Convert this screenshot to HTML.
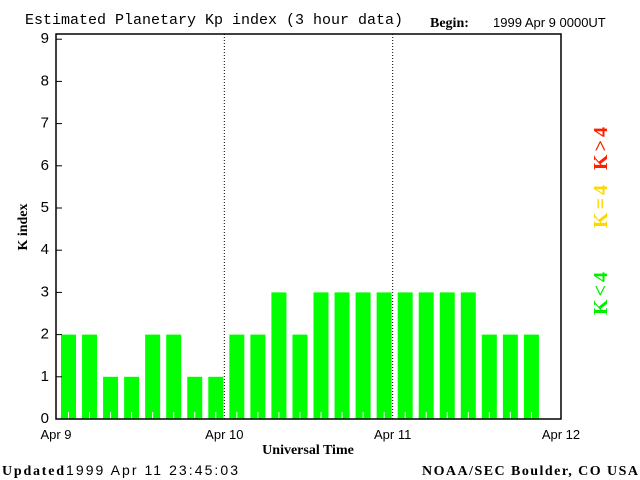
<!DOCTYPE html>
<html><head><meta charset="utf-8"><style>
body{margin:0;background:#fff;width:640px;height:480px;overflow:hidden}
svg{display:block}
.serif{font-family:"Liberation Serif",serif;font-weight:bold}
.sans{font-family:"Liberation Sans",sans-serif}
</style></head><body>
<svg id="chart" width="640" height="480" xmlns="http://www.w3.org/2000/svg">
<text x="25" y="24" font-size="15" style="font-family:'Liberation Mono',monospace">Estimated Planetary Kp index (3 hour data)</text>
<text x="430" y="27" class="serif" font-size="14">Begin:</text>
<text x="493" y="27" class="sans" font-size="13">1999 Apr 9 0000UT</text>
<g id="bars"></g>
<g id="axes"></g>
<text x="27" y="227" class="serif" font-size="14" transform="rotate(-90 27 227)" text-anchor="middle">K index</text>
<text x="308" y="454" class="serif" font-size="14" text-anchor="middle">Universal Time</text>
<text x="2" y="475" class="serif" font-size="14" textLength="62">Updated</text>
<text x="66" y="475" class="sans" font-size="14" textLength="172">1999 Apr 11 23:45:03</text>
<text x="422" y="475" class="serif" font-size="14" textLength="216">NOAA/SEC Boulder, CO USA</text>
<text x="607" y="292" class="serif" font-size="20" fill="#00ee00" transform="rotate(-90 607 292)" text-anchor="middle" letter-spacing="3">K&lt;4</text>
<text x="607" y="205" class="serif" font-size="20" fill="#ffd700" transform="rotate(-90 607 205)" text-anchor="middle" letter-spacing="3">K=4</text>
<text x="607" y="147" class="serif" font-size="20" fill="#ff2000" transform="rotate(-90 607 147)" text-anchor="middle" letter-spacing="3">K&gt;4</text>
</svg>
<script>
const kpValues=[2,2,1,1,2,2,1,1,2,2,3,2,3,3,3,3,3,3,3,3,2,2,2];
const yTicks=[0,1,2,3,4,5,6,7,8,9];
const dayLabels=["Apr 9","Apr 10","Apr 11","Apr 12"];
const NS="http://www.w3.org/2000/svg";
const L=56,R=561,T=34,B=419,unit=42.2;
const slot=(R-L)/24;
function xS(i){return L+i*slot;}
function yS(v){return B-v*unit;}
function mk(tag,attrs,parent){const e=document.createElementNS(NS,tag);for(const k in attrs)e.setAttribute(k,attrs[k]);parent.appendChild(e);return e;}
const bars=document.getElementById('bars'),axes=document.getElementById('axes');
kpValues.forEach((v,i)=>{
  const c=v<4?'#00ff00':(v==4?'#ffd700':'#ff2000');
  const r=mk('rect',{x:xS(i)+5,y:yS(v),width:15,height:B-yS(v),fill:c},bars);
  
  
  const t=mk('line',{x1:xS(i)+12.5,x2:xS(i)+12.5,y1:B-7,y2:B,stroke:'#fff','stroke-width':1},bars);
  
  
});
const frame=mk('rect',{x:L,y:T,width:R-L,height:B-T,fill:'none',stroke:'#000','stroke-width':1.5},axes);


yTicks.forEach(v=>{
  const l=mk('line',{x1:L,x2:L+6,y1:yS(v),y2:yS(v),stroke:'#000'},axes);
  
  
  const t=mk('text',{x:49,y:yS(v)+4,'text-anchor':'end','font-size':15,'font-family':'Liberation Sans, sans-serif'},axes);
  t.textContent=v;
  
  
});
dayLabels.forEach((d,i)=>{
  const x=xS(i*8);
  if(i>0&&i<3){const l=mk('line',{x1:x,x2:x,y1:T,y2:B,stroke:'#000','stroke-dasharray':'1,2'},axes);
  
  }
  const t=mk('text',{x:x,y:439,'text-anchor':'middle','font-size':13,'font-family':'Liberation Sans, sans-serif'},axes);
  t.textContent=d;
  
  
});
</script>
</body></html>
